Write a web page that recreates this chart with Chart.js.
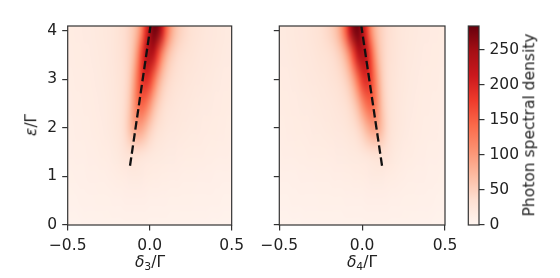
<!DOCTYPE html>
<html>
<head>
<meta charset="utf-8">
<script src="https://cdn.jsdelivr.net/npm/chart.js@4.4.1/dist/chart.umd.min.js"></script>
<style>
  body { margin: 0; background: #fff; }
  #fig { position: relative; width: 560px; height: 278px; font-family: 'DejaVu Sans', sans-serif; color: #222; }
  #fig canvas { position: absolute; top: 0; }
  .lbl { position: absolute; font-size: 15.5px; line-height: 1; white-space: nowrap; }
  .lbl sub { font-size: 0.7em; vertical-align: -0.25em; line-height: 0; }
</style>
</head>
<body>
<div id="fig">
  <canvas id="left" width="250" height="278" style="left:0"></canvas>
  <canvas id="right" width="215" height="278" style="left:250px"></canvas>
  <canvas id="cbar" width="105" height="278" style="left:455px"></canvas>
  <div class="lbl" style="left:150px;top:255px;transform:translateX(-50%)"><i>δ</i><sub>3</sub>/Γ</div>
  <div class="lbl" style="left:362px;top:255px;transform:translateX(-50%)"><i>δ</i><sub>4</sub>/Γ</div>
  <div class="lbl" style="left:32px;top:125px;transform:translate(-50%,-50%) rotate(-90deg)"><i>ε</i>/Γ</div>
  <div class="lbl" style="left:530px;top:125px;transform:translate(-50%,-50%) rotate(-90deg)">Photon spectral density</div>
</div>
<script>
// detuning grid (columns) and epsilon rows
const xGrid = [-0.5, -0.475, -0.45, -0.425, -0.4, -0.375, -0.35, -0.325, -0.3, -0.275,
  -0.25, -0.225, -0.2, -0.175, -0.15, -0.125, -0.1, -0.075, -0.05, -0.025, 0,
  0.025, 0.05, 0.075, 0.1, 0.125, 0.15, 0.175, 0.2, 0.225, 0.25, 0.275, 0.3,
  0.325, 0.35, 0.375, 0.4, 0.425, 0.45, 0.475, 0.5];
const epsRows = [0, 0.5, 1, 1.5, 2, 2.5, 3, 3.5, 4];

// photon spectral density, left panel (delta_3), one row per epsilon
const density3 = [
  [5,5,5,5,6,6,6,6,6,7,7,7,7,7,7,7,7,7,7,7,7,7,7,7,7,6,6,6,6,6,6,6,6,6,6,5,5,5,5,5,5],
  [7,7,7,8,8,8,8,9,9,9,9,10,10,10,11,11,11,11,11,11,10,10,10,10,10,9,9,9,9,9,9,8,8,8,8,8,8,8,7,7,7],
  [9,9,10,10,10,11,11,11,12,12,13,14,15,16,17,18,19,19,18,17,16,15,15,14,14,13,13,13,12,12,12,12,11,11,11,11,10,10,10,10,10],
  [11,11,12,12,12,13,13,14,15,16,17,19,21,25,30,34,36,35,32,28,25,22,21,20,19,18,18,17,17,16,16,15,15,15,14,14,14,13,13,13,12],
  [12,12,13,13,14,14,15,16,17,18,20,22,26,31,42,62,85,96,90,74,55,42,34,29,26,24,23,22,21,20,19,19,18,17,17,16,16,15,15,14,14],
  [13,13,14,14,15,15,16,17,18,19,21,23,26,31,40,58,95,135,150,138,108,76,54,41,34,30,27,25,24,23,22,21,20,19,19,18,17,17,16,16,15],
  [14,14,15,15,16,16,17,18,19,20,22,24,27,31,38,52,85,135,180,196,180,140,95,65,48,39,34,31,28,26,25,24,23,22,21,20,19,18,17,17,16],
  [15,15,16,16,17,17,18,19,20,21,23,25,28,32,38,48,68,110,170,225,240,222,172,118,80,57,45,38,34,31,29,27,25,24,23,22,21,20,19,18,18],
  [16,16,17,17,18,18,19,20,21,22,24,26,29,33,38,46,58,80,122,185,245,276,268,218,152,102,72,55,45,39,34,31,28,26,24,23,22,21,20,19,19]
];

// right panel (delta_4)
const density4 = [
  [5,5,5,5,5,5,6,6,6,6,6,6,6,6,6,6,7,7,7,7,7,7,7,7,7,7,7,7,7,7,7,7,6,6,6,6,6,5,5,5,5],
  [7,7,7,8,8,8,8,8,8,8,9,9,9,9,9,9,10,10,10,10,10,11,11,11,11,11,11,10,10,10,9,9,9,9,8,8,8,8,7,7,7],
  [10,10,10,10,10,11,11,11,11,12,12,12,12,13,13,13,14,14,15,15,16,17,18,19,19,18,17,16,15,14,13,12,12,11,11,11,10,10,10,9,9],
  [12,13,13,13,14,14,14,15,15,15,16,16,17,17,18,18,19,20,21,22,25,28,32,35,36,34,30,25,21,19,17,16,15,14,13,13,12,12,12,11,11],
  [14,14,15,15,16,16,17,17,18,19,19,20,21,22,23,24,26,29,34,42,55,74,90,96,85,62,42,31,26,22,20,18,17,16,15,14,14,13,13,12,12],
  [15,16,16,17,17,18,19,19,20,21,22,23,24,25,27,30,34,41,54,76,108,138,150,135,95,58,40,31,26,23,21,19,18,17,16,15,15,14,14,13,13],
  [16,17,17,18,19,20,21,22,23,24,25,26,28,31,34,39,48,65,95,140,180,196,180,135,85,52,38,31,27,24,22,20,19,18,17,16,16,15,15,14,14],
  [18,18,19,20,21,22,23,24,25,27,29,31,34,38,45,57,80,118,172,222,240,225,170,110,68,48,38,32,28,25,23,21,20,19,18,17,17,16,16,15,15],
  [19,19,20,21,22,23,24,26,28,31,34,39,45,55,72,102,152,218,268,276,245,185,122,80,58,46,38,33,29,26,24,22,21,20,19,18,18,17,17,16,16]
];

// dashed guide lines
const dash3X = [-0.12, 0.005];
const dash3Y = [1.22, 4.1];
const dash4X = [0.12, -0.005];
const dash4Y = [1.22, 4.1];

const yTop = 4.1;
const densityMax = 284;

// matplotlib "Reds"
const redsStops = [
  [255,245,240],[254,224,210],[252,187,161],[252,146,114],[251,106,74],
  [239,59,44],[203,24,29],[165,15,21],[103,0,13]
];
function reds(f) {
  f = Math.max(0, Math.min(1, f));
  const p = f * (redsStops.length - 1);
  const i = Math.min(Math.floor(p), redsStops.length - 2);
  const t = p - i;
  const a = redsStops[i], b = redsStops[i + 1];
  return [0, 1, 2].map(k => Math.round(a[k] + (b[k] - a[k]) * t));
}

const textColor = '#222';
const spineColor = '#333';
const tickFont = { family: "'DejaVu Sans', sans-serif", size: 15.5 };

const heatmap = {
  id: 'heatmap',
  beforeDatasetsDraw(chart, args, opts) {
    if (!opts.rows) return;
    const { ctx, chartArea: a } = chart;
    const x = chart.scales.x, y = chart.scales.y;
    const nx = opts.xs.length, ny = opts.ys.length;
    const off = document.createElement('canvas');
    off.width = nx;
    off.height = ny;
    const octx = off.getContext('2d');
    const img = octx.createImageData(nx, ny);
    for (let j = 0; j < ny; j++) {
      const row = opts.rows[ny - 1 - j];
      for (let i = 0; i < nx; i++) {
        const c = reds(row[i] / opts.vmax);
        const k = (j * nx + i) * 4;
        img.data[k] = c[0];
        img.data[k + 1] = c[1];
        img.data[k + 2] = c[2];
        img.data[k + 3] = 255;
      }
    }
    octx.putImageData(img, 0, 0);
    const hx = (opts.xs[1] - opts.xs[0]) / 2;
    const hy = (opts.ys[1] - opts.ys[0]) / 2;
    const left = x.getPixelForValue(opts.xs[0] - hx);
    const right = x.getPixelForValue(opts.xs[nx - 1] + hx);
    const top = y.getPixelForValue(opts.ys[ny - 1] + hy);
    const bottom = y.getPixelForValue(opts.ys[0] - hy);
    ctx.save();
    ctx.beginPath();
    ctx.rect(a.left, a.top, a.width, a.height);
    ctx.clip();
    ctx.imageSmoothingEnabled = true;
    ctx.imageSmoothingQuality = 'high';
    ctx.drawImage(off, left, top, right - left, bottom - top);
    ctx.restore();
  }
};

const colorbar = {
  id: 'colorbar',
  beforeDatasetsDraw(chart, args, opts) {
    if (!opts.vmax) return;
    const { ctx, chartArea: a } = chart;
    const y = chart.scales.y;
    const g = ctx.createLinearGradient(0, y.getPixelForValue(0), 0, y.getPixelForValue(opts.vmax));
    redsStops.forEach((c, i) => g.addColorStop(i / (redsStops.length - 1), `rgb(${c[0]},${c[1]},${c[2]})`));
    ctx.save();
    ctx.fillStyle = g;
    ctx.fillRect(a.left, a.top, a.width, a.height);
    ctx.restore();
  }
};

const frame = {
  id: 'frame',
  afterDraw(chart) {
    const { ctx, chartArea: a } = chart;
    ctx.save();
    ctx.strokeStyle = spineColor;
    ctx.lineWidth = 1.2;
    ctx.strokeRect(a.left, a.top, a.width, a.height);
    ctx.restore();
  }
};

const tickGrid = { drawOnChartArea: false, drawTicks: true, tickLength: 5.5, color: spineColor, lineWidth: 1.2 };

function panel(id, rows, dx, dy, yAxisWidth, padRight, showYLabels) {
  new Chart(document.getElementById(id), {
    type: 'scatter',
    data: {
      datasets: [{
        data: dx.map((v, i) => ({ x: v, y: dy[i] })),
        showLine: true,
        borderColor: '#111',
        borderWidth: 2.3,
        borderDash: [8.5, 3.7],
        pointRadius: 0
      }]
    },
    options: {
      responsive: false,
      animation: false,
      events: [],
      layout: { padding: { top: 26, right: padRight, bottom: 0, left: 0 } },
      plugins: {
        legend: { display: false },
        tooltip: { enabled: false },
        heatmap: { rows: rows, xs: xGrid, ys: epsRows, vmax: densityMax }
      },
      scales: {
        x: {
          type: 'linear', min: -0.5, max: 0.5,
          afterFit: s => { s.height = 53; },
          border: { display: false },
          grid: tickGrid,
          ticks: {
            stepSize: 0.5, includeBounds: false, padding: 6, color: textColor, font: tickFont, maxRotation: 0,
            callback: v => v.toFixed(1).replace('-', '\u2212')
          }
        },
        y: {
          type: 'linear', min: 0, max: yTop,
          afterFit: s => { s.width = yAxisWidth; },
          border: { display: false },
          grid: tickGrid,
          ticks: {
            stepSize: 1, includeBounds: false, padding: 5, color: textColor, font: tickFont,
            callback: v => showYLabels ? String(v) : ''
          }
        }
      }
    },
    plugins: [heatmap, frame]
  });
}

panel('left', density3, dash3X, dash3Y, 67.7, 17.3, true);
panel('right', density4, dash4X, dash4Y, 29.3, 20, false);

new Chart(document.getElementById('cbar'), {
  type: 'scatter',
  data: { datasets: [{ data: [] }] },
  options: {
    responsive: false,
    animation: false,
    events: [],
    layout: { padding: { top: 26, right: 0, bottom: 53, left: 13.3 } },
    plugins: {
      legend: { display: false },
      tooltip: { enabled: false },
      colorbar: { vmax: densityMax }
    },
    scales: {
      x: { display: false, min: 0, max: 1 },
      y: {
        position: 'right', min: 0, max: densityMax,
        afterFit: s => { s.width = 81; },
        border: { display: false },
        grid: tickGrid,
        ticks: { stepSize: 50, includeBounds: false, padding: 5, color: textColor, font: tickFont }
      }
    }
  },
  plugins: [colorbar, frame]
});
</script>
</body>
</html>
